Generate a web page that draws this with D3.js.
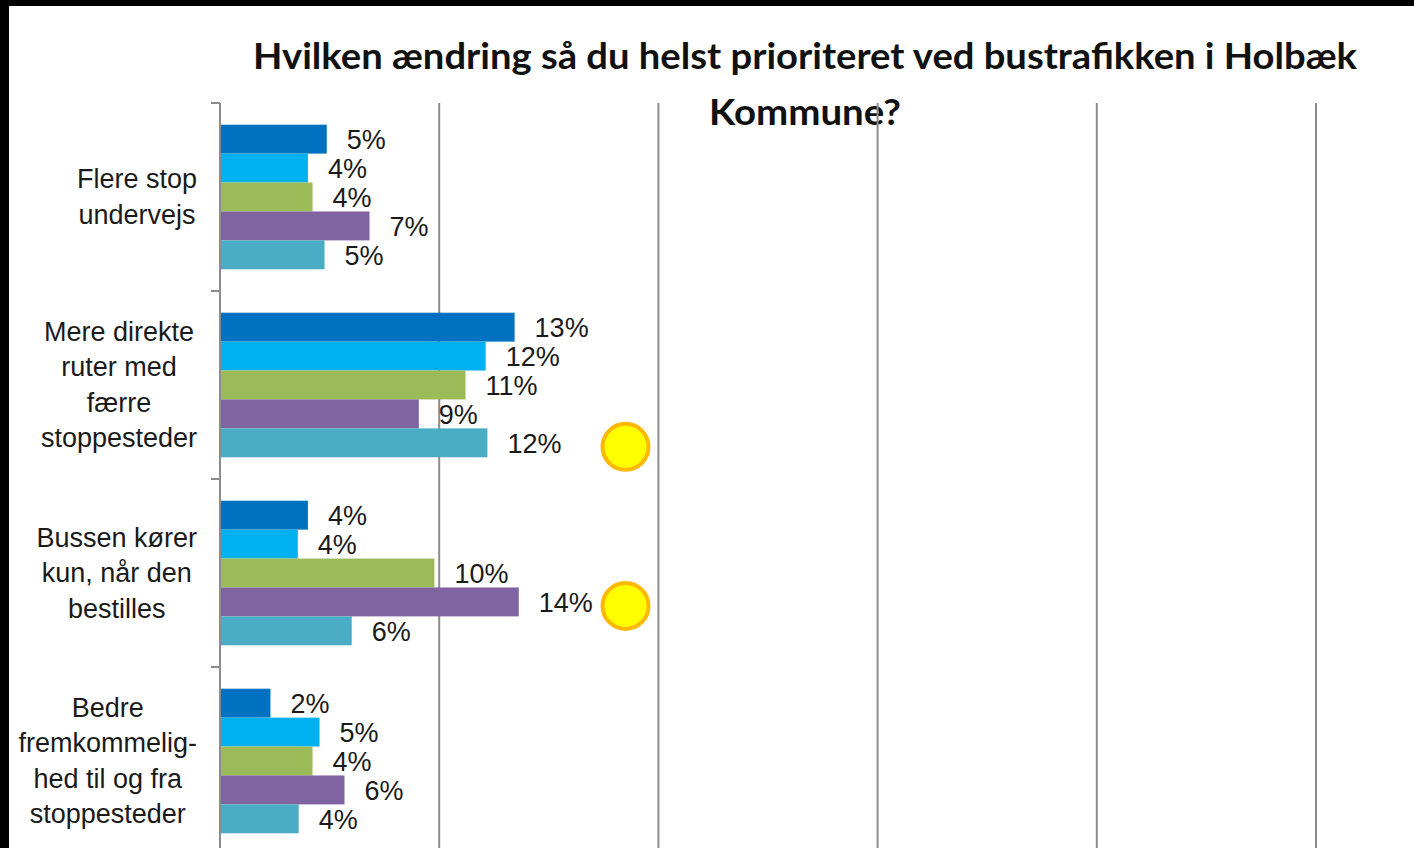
<!DOCTYPE html>
<html>
<head>
<meta charset="utf-8">
<script src="https://cdn.jsdelivr.net/npm/d3@7"></script>
<style>
  html, body { margin: 0; padding: 0; background: #000; }
  svg { display: block; }
</style>
</head>
<body>
<svg id="chart" width="1414" height="848"></svg>
<script>
'use strict';

// categories, top to bottom ('\n' = line break in the label)
var categories = [
    'Flere stop\nundervejs',
    'Mere direkte\nruter med\nfærre\nstoppesteder',
    'Bussen kører\nkun, når den\nbestilles',
    'Bedre\nfremkommelig-\nhed til og fra\nstoppesteder'
];

// five series per category (percent)
var series1 = [4.87, 13.44, 4.01, 2.3];
var series2 = [4.01, 12.12, 3.55, 4.54];
var series3 = [4.22, 11.2, 9.78, 4.22];
var series4 = [6.82, 9.07, 13.63, 5.68];
var series5 = [4.77, 12.2, 6.01, 3.59];

var seriesNames = ['s1', 's2', 's3', 's4', 's5'];
var seriesColors = ['#0070C0', '#00B0F0', '#9BBB59', '#8064A2', '#4BACC6'];

var xTicks = [0, 10, 20, 30, 40, 50];

// yellow marker circles: [category index, series index]
var markers = [[1, 4], [2, 3]];
var markerX = 18.5;

var titleLines = ['Hvilken ændring så du helst prioriteret ved bustrafikken i Holbæk', 'Kommune?'];

var allSeries = [series1, series2, series3, series4, series5];

var W = 1414, H = 848;
var svg = d3.select('#chart');

// frame: black strip at top and left
svg.append('rect').attr('width', W).attr('height', H).attr('fill', '#000');
svg.append('rect').attr('x', 9).attr('y', 6).attr('width', W - 9).attr('height', H - 6).attr('fill', '#fff');

var x = d3.scaleLinear().domain([0, 50]).range([220, 1316]);
var y = d3.scaleBand().domain(d3.range(categories.length)).range([103, 855]);
var yInner = d3.scaleBand().domain(d3.range(seriesNames.length))
    .range([0, y.bandwidth()]).paddingOuter(0.75).paddingInner(0);

// title (gridlines are drawn over it, as in the original)
var title = svg.append('g').attr('class', 'title');
title.append('text')
    .attr('x', 805).attr('y', 69)
    .attr('text-anchor', 'middle')
    .attr('textLength', 1104)
    .attr('lengthAdjust', 'spacingAndGlyphs')
    .style('font-family', 'Lato, "Open Sans", sans-serif')
    .style('font-weight', 700)
    .style('font-size', '36px')
    .attr('fill', '#111')
    .text(titleLines[0]);
title.append('text')
    .attr('x', 805).attr('y', 125)
    .attr('text-anchor', 'middle')
    .attr('textLength', 192)
    .attr('lengthAdjust', 'spacingAndGlyphs')
    .style('font-family', 'Lato, "Open Sans", sans-serif')
    .style('font-weight', 700)
    .style('font-size', '36px')
    .attr('fill', '#111')
    .text(titleLines[1]);

// vertical gridlines
svg.append('g').attr('class', 'grid')
    .selectAll('line')
    .data(xTicks.slice(1))
    .enter().append('line')
    .attr('x1', function(d) { return x(d); })
    .attr('x2', function(d) { return x(d); })
    .attr('y1', 103).attr('y2', H)
    .attr('stroke', '#8c8c8c')
    .attr('stroke-width', 2);

// bars
var groups = svg.append('g').attr('class', 'bars')
    .selectAll('g.cat')
    .data(categories)
    .enter().append('g')
    .attr('class', 'cat')
    .attr('transform', function(d, i) { return 'translate(0,' + y(i) + ')'; });

groups.each(function(cat, ci) {
    var g = d3.select(this);
    var pts = allSeries.map(function(s, si) { return {si: si, v: s[ci]}; });

    g.selectAll('rect')
        .data(pts)
        .enter().append('rect')
        .attr('x', x(0))
        .attr('y', function(d) { return yInner(d.si); })
        .attr('width', function(d) { return x(d.v) - x(0); })
        .attr('height', yInner.bandwidth())
        .attr('fill', function(d) { return seriesColors[d.si]; });

    g.selectAll('text.val')
        .data(pts)
        .enter().append('text')
        .attr('class', 'val')
        .attr('x', function(d) { return x(d.v) + 20; })
        .attr('y', function(d) { return yInner(d.si) + yInner.bandwidth() / 2 + 1; })
        .attr('dominant-baseline', 'central')
        .style('font-family', '"Liberation Sans", Arial, sans-serif')
        .style('font-size', '27px')
        .attr('fill', '#1a1a1a')
        .text(function(d) { return Math.round(d.v) + '%'; });
});

// y axis: line plus outward ticks at the band edges
var axis = svg.append('g').attr('class', 'y-axis');
axis.append('line')
    .attr('x1', x(0)).attr('x2', x(0))
    .attr('y1', 103).attr('y2', H)
    .attr('stroke', '#8c8c8c').attr('stroke-width', 2);
axis.selectAll('line.tick')
    .data(d3.range(categories.length + 1))
    .enter().append('line')
    .attr('class', 'tick')
    .attr('x1', x(0) - 9).attr('x2', x(0))
    .attr('y1', function(i) { return 103 + i * y.step(); })
    .attr('y2', function(i) { return 103 + i * y.step(); })
    .attr('stroke', '#8c8c8c').attr('stroke-width', 2);

// category labels: lines centred on each other, block right-aligned at 197
var lineH = 35.5;
categories.forEach(function(cat, ci) {
    var lines = cat.split('\n');
    var cy = y(ci) + y.bandwidth() / 2;
    var lab = svg.append('g').attr('class', 'cat-label');
    var texts = lab.selectAll('text')
        .data(lines)
        .enter().append('text')
        .attr('y', function(d, i) { return cy + (i - (lines.length - 1) / 2) * lineH; })
        .attr('dominant-baseline', 'central')
        .attr('text-anchor', 'middle')
        .style('font-family', '"Liberation Sans", Arial, sans-serif')
        .style('font-size', '27px')
        .attr('fill', '#1a1a1a')
        .text(function(d) { return d; });
    var maxW = 0;
    texts.each(function() { maxW = Math.max(maxW, this.getComputedTextLength()); });
    texts.attr('x', 197 - maxW / 2);
});

// marker circles
svg.append('g').attr('class', 'markers')
    .selectAll('circle')
    .data(markers)
    .enter().append('circle')
    .attr('cx', x(markerX))
    .attr('cy', function(m) { return y(m[0]) + yInner(m[1]) + yInner.bandwidth() / 2 + 4; })
    .attr('r', 23)
    .attr('fill', '#FFFF00')
    .attr('stroke', '#FFB800')
    .attr('stroke-width', 4);
</script>
</body>
</html>
